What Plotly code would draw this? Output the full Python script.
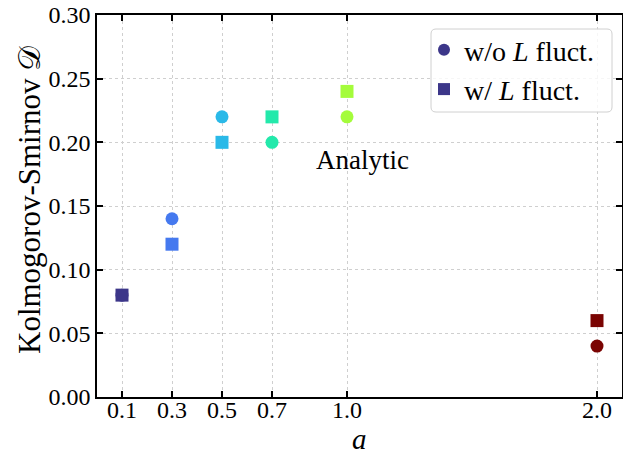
import plotly.graph_objects as go

# data
a_vals = [0.1, 0.3, 0.5, 0.7, 1.0, 2.0]
d_without_L = [0.08, 0.14, 0.22, 0.20, 0.22, 0.04]
d_with_L = [0.08, 0.12, 0.20, 0.22, 0.24, 0.06]
x_ticks = [0.1, 0.3, 0.5, 0.7, 1.0, 2.0]
x_tick_labels = ["0.1", "0.3", "0.5", "0.7", "1.0", "2.0"]
y_ticks = [0.0, 0.05, 0.10, 0.15, 0.20, 0.25, 0.30]

FONT = "Liberation Serif"
FS_TICK = 24
FS_LEG = 28
FS_TITLE = 31

W, H = 623, 459
L, R, T, B = 97, 1, 15, 62
PW, PH = W - L - R, H - T - B


def px_x(screen_x):
    return (screen_x - L) / PW


def px_y(screen_y):
    return (H - B - screen_y) / PH


fig = go.Figure()
marker_common = dict(color=a_vals, colorscale="Turbo", cmin=0, cmax=2, size=13, line=dict(width=0))
fig.add_trace(go.Scatter(x=a_vals, y=d_without_L, mode="markers", name="w/o <i>L</i> fluct.",
                         marker=dict(symbol="circle", **marker_common)))
fig.add_trace(go.Scatter(x=a_vals, y=d_with_L, mode="markers", name="w/ <i>L</i> fluct.",
                         marker=dict(symbol="square", **marker_common)))

fig.add_annotation(x=1.06, y=0.186, text="Analytic", showarrow=False,
                   font=dict(family=FONT, size=27, color="black"))

# axis titles placed as paper annotations
fig.add_annotation(x=px_x(359), y=px_y(439), xref="paper", yref="paper",
                   text="<i>a</i>", showarrow=False, xanchor="center", yanchor="middle",
                   font=dict(family=FONT, size=29, color="black"))
fig.add_annotation(x=px_x(29), y=px_y(200), xref="paper", yref="paper",
                   text="Kolmogorov-Smirnov 𝒟", textangle=-90, showarrow=False,
                   xanchor="center", yanchor="middle",
                   font=dict(family=FONT, size=FS_TITLE, color="black"))

axis_common = dict(showline=True, linecolor="black", linewidth=1.5, mirror="ticks",
                   ticks="inside", ticklen=6, tickwidth=1.5, tickcolor="black",
                   showgrid=True, gridcolor="#cfcfcf", griddash="dot", gridwidth=1,
                   zeroline=False, automargin=False, ticklabeloverflow="allow",
                   tickfont=dict(family=FONT, size=FS_TICK, color="black"))

fig.update_xaxes(range=[0, 2.1], tickvals=x_ticks, ticktext=x_tick_labels,
                 ticklabelstandoff=-10, **axis_common)
fig.update_yaxes(range=[0, 0.30], tickvals=y_ticks, tickformat=".2f", **axis_common)

# rounded legend frame
x0p, x1p = px_x(431), px_x(612)
y0p, y1p = px_y(112), px_y(29)
rx, ry = 5 / PW, 5 / PH
path = (f"M {x0p+rx},{y0p} L {x1p-rx},{y0p} Q {x1p},{y0p} {x1p},{y0p+ry} "
        f"L {x1p},{y1p-ry} Q {x1p},{y1p} {x1p-rx},{y1p} L {x0p+rx},{y1p} "
        f"Q {x0p},{y1p} {x0p},{y1p-ry} L {x0p},{y0p+ry} Q {x0p},{y0p} {x0p+rx},{y0p} Z")
fig.add_shape(type="path", path=path, xref="paper", yref="paper",
              line=dict(color="#d0d0d0", width=1), fillcolor="rgba(255,255,255,0.8)", layer="above")

fig.update_layout(
    width=W, height=H,
    margin=dict(l=L, r=R, t=T, b=B),
    plot_bgcolor="white", paper_bgcolor="white",
    font=dict(family=FONT, size=FS_LEG, color="black"),
    showlegend=True,
    legend=dict(x=px_x(424), y=px_y(25), xanchor="left", yanchor="top",
                bgcolor="rgba(0,0,0,0)", borderwidth=0,
                font=dict(family=FONT, size=FS_LEG, color="black"),
                itemsizing="constant", tracegroupgap=0),
)

fig.write_html("out.html", config={"displayModeBar": False},
               post_script="document.body.style.margin='0';document.body.style.overflow='hidden';")
